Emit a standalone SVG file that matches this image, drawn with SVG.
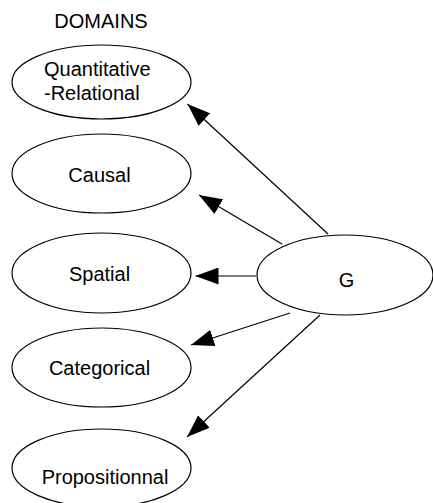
<svg xmlns="http://www.w3.org/2000/svg" width="433" height="503" viewBox="0 0 433 503">
<defs>
<marker id="ah" viewBox="0 0 23 17" refX="23" refY="8.5" markerWidth="23" markerHeight="17" markerUnits="userSpaceOnUse" orient="auto">
<path d="M0,0 L23,8.5 L0,17 z" fill="#000"/>
</marker>
<style>
.n ellipse{fill:#fff;stroke:#000;stroke-width:1.2}
text{font-family:"Liberation Sans",Arial,sans-serif;font-size:20px;fill:#000}
.c{text-anchor:middle}
.e line{stroke:#000;stroke-width:1.2;marker-end:url(#ah)}
</style>
</defs>
<rect width="433" height="503" fill="#fff"/>
<text class="c" x="101" y="28">DOMAINS</text>
<g class="e" id="connectors">
<line x1="328" y1="234" x2="187.5" y2="104"/>
<line x1="282" y1="244" x2="199" y2="195"/>
<line x1="256" y1="276" x2="195.5" y2="276"/>
<line x1="290" y1="313" x2="191" y2="345"/>
<line x1="320" y1="315" x2="187" y2="437"/>
</g>
<g class="n" id="quantitative">
<ellipse cx="101.5" cy="82" rx="89.5" ry="37"/>
<text x="44" y="76">Quantitative</text>
<text x="44" y="100">-Relational</text>
</g>
<g class="n" id="causal">
<ellipse cx="101.5" cy="173.5" rx="89.5" ry="39.5"/>
<text class="c" x="99.5" y="182">Causal</text>
</g>
<g class="n" id="spatial">
<ellipse cx="101.5" cy="273" rx="89.5" ry="40"/>
<text class="c" x="99.5" y="281">Spatial</text>
</g>
<g class="n" id="categorical">
<ellipse cx="101.5" cy="367.5" rx="89.5" ry="39.5"/>
<text class="c" x="99.5" y="374.5">Categorical</text>
</g>
<g class="n" id="propositionnal">
<ellipse cx="101.5" cy="468" rx="89.5" ry="39"/>
<text class="c" x="105" y="484">Propositionnal</text>
</g>
<g class="n" id="g">
<ellipse cx="345" cy="275" rx="88" ry="40"/>
<text class="c" x="346.5" y="286.5">G</text>
</g>
</svg>
